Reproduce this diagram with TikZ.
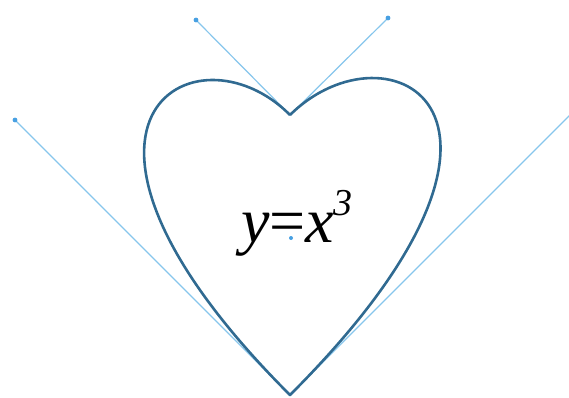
\documentclass[tikz,border=0pt]{standalone}
\usepackage{fontspec}
\setmainfont{Liberation Serif}
\newfontfamily\formit{Liberation Serif Italic}
\usepackage{xcolor}
\usetikzlibrary{positioning, calc}

\definecolor{curveblue}{RGB}{48,106,145}
\definecolor{handleblue}{RGB}{135,198,236}
\definecolor{dotblue}{RGB}{72,160,226}

\newcommand{\cubelabel}{%
    {\formit y}={\formit x}\raisebox{0.42em}{\fontsize{38}{38}\selectfont\formit 3}}

\tikzset{
    heartline/.style={draw=curveblue, line width=2.6pt, line join=round},
    handleline/.style={draw=handleblue, line width=1.2pt},
    handledot/.style={fill=dotblue},
    formula/.style={font=\fontsize{64}{64}\selectfont, inner sep=0pt}
}

\begin{document}
\begin{tikzpicture}[x=1pt, y=-1pt]

    % --- CANVAS ---
    \useasboundingbox (0,0) rectangle (569,398);
    \clip (0,0) rectangle (569,398);

    % --- ANCHOR POINTS OF THE HEART ---
    \coordinate (notch) at (290,115);
    \coordinate (tip)   at (290,395);

    % --- CONTROL POINTS ---
    \coordinate (topL) at (196,20);
    \coordinate (topR) at (388,18);
    \coordinate (lowL) at (15,120);
    \coordinate (lowR) at (573,112);
    \coordinate (mid)  at (291,238);

    % --- HANDLES ---
    \draw[handleline] (notch) -- (topL);
    \draw[handleline] (notch) -- (topR);
    \draw[handleline] (tip) -- (lowL);
    \draw[handleline] (tip) -- (lowR);

    % --- HEART OUTLINE ---
    % two cubic curves meeting at the notch and at the tip
    \draw[heartline] (notch) .. controls (topL) and (lowL) .. (tip)
                             .. controls (lowR) and (topR) .. (notch);

    % --- HANDLE DOTS ---
    \fill[handledot] (topL) circle (2.4pt);
    \fill[handledot] (topR) circle (2.4pt);
    \fill[handledot] (lowL) circle (2.4pt);
    \fill[handledot] (mid) circle (2pt);

    % --- LABEL ---
    \node[formula, anchor=base] (label) at (297,242) {\cubelabel};

\end{tikzpicture}
\end{document}
